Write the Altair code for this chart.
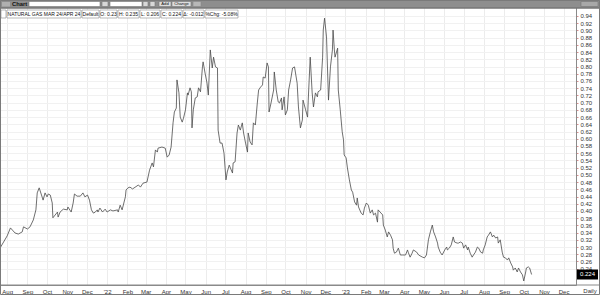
import altair as alt
import pandas as pd

# ---------------- data ----------------
start_date = "2021-08-01"
day_offsets = [
    -11, 0, 5, 8, 12, 17, 23, 25, 31, 35, 40, 44, 46, 49, 54, 55, 58, 61, 63, 66,
    69, 70, 77, 78, 81, 86, 92, 93, 98, 101, 103, 107, 112, 116, 119, 123, 126, 129, 132, 135,
    138, 139, 142, 146, 150, 153, 158, 162, 169, 170, 173, 176, 181, 182, 185,
    188, 192, 201, 204, 208, 214, 218, 222, 224, 227, 230, 231, 237, 242, 245, 248, 251,
    254, 256, 259, 260, 263, 265, 268, 270, 273, 276, 277, 280, 282, 283, 285, 288, 291, 293,
    296, 299, 300, 303, 306, 308, 311, 314, 316, 319, 322, 323, 326, 329, 332, 335, 337, 340,
    345, 346, 349, 352, 354, 357,
    360, 362, 365, 368, 369, 372, 375, 377, 380, 383, 385, 388, 391, 392, 395, 398, 400, 401,
    404, 408, 409, 412, 415, 417, 420, 421, 424, 426, 429, 431, 434, 437, 440, 444, 446, 449,
    452, 453, 457, 460, 461, 464, 467, 469, 472, 475, 476, 480, 483, 484, 486, 489, 492, 495,
    498, 499, 501, 502, 506, 507, 510, 513,
    515, 516, 519, 521, 524, 527, 529, 532, 535, 536, 538, 542, 545, 547, 550, 553, 556, 559,
    561, 564, 567, 568, 571, 575, 576, 579, 582, 584, 587, 590, 591, 593, 596, 599, 602, 605,
    610, 613, 614, 617, 620, 622, 627, 630, 636, 639, 642, 645, 648, 651, 653, 656, 659, 660,
    663, 666, 670, 673, 674, 677, 680, 683, 685, 689, 691, 694, 697, 699, 702, 705, 706, 709,
    712, 714, 717, 720, 722, 725, 728, 729, 732, 735, 737, 740, 743, 745, 748, 751, 752, 755,
    758, 760, 763, 766, 768, 771, 774, 775, 778, 781, 783, 786, 789, 791, 794, 795, 798, 800, 803,
]
values = [
    0.297, 0.331, 0.353, 0.347, 0.339, 0.336, 0.342, 0.356, 0.350, 0.356, 0.375, 0.403, 0.450, 0.464, 0.436, 0.430, 0.450, 0.439, 0.447, 0.444,
    0.422, 0.381, 0.397, 0.383, 0.397, 0.405, 0.403, 0.411, 0.397, 0.422, 0.447, 0.441, 0.441, 0.450, 0.439, 0.444, 0.430, 0.403, 0.394, 0.397,
    0.403, 0.397, 0.408, 0.397, 0.405, 0.397, 0.403, 0.400, 0.403, 0.397, 0.416, 0.403, 0.439, 0.458, 0.464,
    0.466, 0.461, 0.472, 0.466, 0.477, 0.480, 0.513, 0.533, 0.522, 0.569, 0.563, 0.574, 0.577, 0.574, 0.549, 0.555, 0.577,
    0.644, 0.674, 0.685, 0.763, 0.727, 0.660, 0.646, 0.657, 0.680, 0.727, 0.721, 0.741, 0.730, 0.630, 0.680, 0.713, 0.716, 0.741,
    0.730, 0.799, 0.813, 0.782, 0.754, 0.721, 0.846, 0.796, 0.826, 0.799, 0.796, 0.624, 0.588, 0.588, 0.560, 0.486, 0.508, 0.527,
    0.505, 0.533, 0.536, 0.616, 0.638, 0.624,
    0.644, 0.616, 0.588, 0.563, 0.616, 0.591, 0.583, 0.644, 0.638, 0.699, 0.735, 0.743, 0.749, 0.771, 0.768, 0.810, 0.799, 0.674,
    0.699, 0.735, 0.785, 0.735, 0.702, 0.699, 0.713, 0.680, 0.716, 0.666, 0.680, 0.735, 0.763, 0.796, 0.799, 0.754, 0.688, 0.630,
    0.652, 0.707, 0.680, 0.660, 0.707, 0.826, 0.727, 0.688, 0.727, 0.716, 0.730, 0.735, 0.826, 0.901, 0.934, 0.882, 0.707, 0.799,
    0.846, 0.901, 0.846, 0.826, 0.851, 0.735, 0.680, 0.619,
    0.597, 0.555, 0.547, 0.519, 0.486, 0.458, 0.452, 0.425, 0.416, 0.436, 0.411, 0.394, 0.389, 0.408, 0.422, 0.416, 0.394, 0.403,
    0.389, 0.394, 0.369, 0.403, 0.397, 0.389, 0.361, 0.347, 0.328, 0.342, 0.333, 0.320, 0.297, 0.283, 0.286, 0.297, 0.278, 0.278,
    0.278, 0.292, 0.286, 0.272, 0.283, 0.292, 0.286, 0.278, 0.272, 0.270, 0.278, 0.320, 0.342, 0.361, 0.342, 0.328, 0.311, 0.300,
    0.286, 0.278, 0.292, 0.300, 0.292, 0.297, 0.306, 0.328, 0.314, 0.311, 0.311, 0.314, 0.311, 0.297, 0.306, 0.292, 0.300, 0.283,
    0.272, 0.278, 0.286, 0.300, 0.297, 0.286, 0.283, 0.292, 0.306, 0.328, 0.333, 0.342, 0.328, 0.333, 0.325, 0.328, 0.311, 0.320,
    0.286, 0.272, 0.270, 0.264, 0.270, 0.256, 0.245, 0.236, 0.242, 0.231, 0.242, 0.231, 0.223, 0.206, 0.231, 0.242, 0.245, 0.242, 0.224,
]

tick_months = [
    (2021, 8), (2021, 9), (2021, 10), (2021, 11), (2021, 12),
    (2022, 1), (2022, 2), (2022, 3), (2022, 4), (2022, 5), (2022, 6), (2022, 7),
    (2022, 8), (2022, 9), (2022, 10), (2022, 11), (2022, 12),
    (2023, 1), (2023, 2), (2023, 3), (2023, 4), (2023, 5), (2023, 6), (2023, 7),
    (2023, 8), (2023, 9), (2023, 10), (2023, 11), (2023, 12),
]
y_ticks = [0.24, 0.26, 0.28, 0.30, 0.32, 0.34, 0.36, 0.38, 0.40, 0.42, 0.44, 0.46,
           0.48, 0.50, 0.52, 0.54, 0.56, 0.58, 0.60, 0.62, 0.64, 0.66, 0.68, 0.70,
           0.72, 0.74, 0.76, 0.78, 0.80, 0.82, 0.84, 0.86, 0.88, 0.90, 0.92, 0.94]

legend_items = ["NATURAL GAS MAR 24/APR 24", "Default", "O: 0.23", "H: 0.235",
                "L: 0.206", "C: 0.224", "\u0394: -0.012", "%Chg: -5.08%"]

# ---------------- build table ----------------
dates = pd.Timestamp(start_date) + pd.to_timedelta(day_offsets, unit="D")
df = pd.DataFrame({"date": dates.strftime("%Y-%m-%dT00:00:00"), "value": values})
last_df = df.tail(1)

FONT = "Liberation Sans"
W, H = 576, 285

x_scale = alt.Scale(domain=[alt.DateTime(year=2021, month=7, date=21),
                            alt.DateTime(year=2023, month=12, date=20)])
y_scale = alt.Scale(domain=[0.1949, 0.9843], nice=False, zero=False)

x_axis = alt.Axis(
    values=[alt.DateTime(year=y, month=m, date=1) for y, m in tick_months],
    labelExpr="month(datum.value) == 0 ? \"'\" + timeFormat(datum.value, '%y') : timeFormat(datum.value, '%b')",
    title=None, grid=True, gridColor="#ececec", gridWidth=1,
    domainColor="#8a8a8a", ticks=False, labelFontSize=6, labelPadding=3,
    labelColor="#333333", labelFont=FONT, labelOverlap=False, labelFlush=False,
)
y_axis = alt.Axis(
    orient="right", values=y_ticks, format=".2f", title=None,
    grid=True, gridColor="#f1f1f1", domainColor="#8a8a8a",
    tickColor="#d89090", tickSize=2, labelFontSize=6, labelPadding=2,
    labelColor="#333333", labelFont=FONT, labelOverlap=False, labelFlush=False,
    labelBound=False,
)

line = alt.Chart(df).mark_line(color="#4a4a4a", strokeWidth=0.8).encode(
    x=alt.X("date:T", scale=x_scale, axis=x_axis),
    y=alt.Y("value:Q", scale=y_scale, axis=y_axis),
)

last_box = alt.Chart(last_df).mark_rect(color="black", height=10).encode(
    x=alt.value(577), x2=alt.value(598),
    y=alt.Y("value:Q", scale=y_scale, axis=y_axis),
)
last_text = alt.Chart(last_df).mark_text(
    color="white", fontSize=6, font=FONT, align="left", baseline="middle"
).encode(
    x=alt.value(580), y=alt.Y("value:Q", scale=y_scale, axis=y_axis),
    text=alt.Text("value:Q", format=".3f"),
)

one = alt.Data(values=[{}])


def box(x0, x1, y0, y1, fill, stroke=None, sw=0.6):
    kw = dict(fill=fill)
    if stroke:
        kw.update(stroke=stroke, strokeWidth=sw)
    return alt.Chart(one).mark_rect(**kw).encode(
        x=alt.value(x0), x2=alt.value(x1), y=alt.value(y0), y2=alt.value(y1))


def label(txt, x, y, size=5.0, color="#111111", weight="normal", align="center"):
    return alt.Chart(one).mark_text(
        text=txt, fontSize=size, font=FONT, color=color, fontWeight=weight,
        align=align, baseline="middle").encode(x=alt.value(x), y=alt.value(y))


deco = []
# top toolbar
deco.append(box(0, 600, 0, 8.5, "#8e8e8e"))
deco.append(box(0, 600, 7.5, 8.5, "#6a6a6a"))
deco.append(box(2, 10, 2, 6.5, "#b0b0b0"))
deco.append(label("Chart", 12, 4.3, size=5.8, weight="bold", align="left"))
deco.append(box(29, 100, 1.5, 6.5, "white", "#777777"))
deco.append(box(102, 108, 1.5, 6.5, "#d8d8d8", "#777777"))
deco.append(box(110, 142, 1.5, 6.5, "white", "#777777"))
deco.append(box(143, 148, 1.5, 6.5, "#d8d8d8", "#777777"))
deco.append(box(150, 155, 1.5, 6.5, "#d8d8d8", "#777777"))
deco.append(box(159, 171, 1.5, 6.5, "#dddddd", "#777777"))
deco.append(label("Add", 165, 4.2, size=4.2))
deco.append(box(172, 191, 1.5, 6.5, "#dddddd", "#777777"))
deco.append(label("Change", 181.5, 4.2, size=4.2))
deco.append(box(193, 201, 1.5, 6.5, "#b8b8b8", "#888888"))
deco.append(box(581, 598, 1.5, 6.5, "#a8a8a8", "#777777"))

# legend row
deco.append(box(1, 6, 10, 18, "white", "#888888"))
legend_edges = [7, 82, 100, 118, 140, 161, 183, 205, 239]
for i, txt in enumerate(legend_items):
    x0, x1 = legend_edges[i], legend_edges[i + 1] - 1
    deco.append(box(x0, x1, 10, 18, "white", "#8a8a8a"))
    deco.append(label(txt, (x0 + x1) / 2, 14.2))

# bottom line across and frame
frame_rule = alt.Chart(one).mark_rule(color="#8a8a8a", strokeWidth=1).encode(
    x=alt.value(0), x2=alt.value(600), y=alt.value(285))
deco.append(frame_rule)
deco.append(label("Daily", 590, 291, size=6, color="#333333"))
deco.append(alt.Chart(one).mark_rect(fill="transparent", stroke="#7a7a7a", strokeWidth=1).encode(
    x=alt.value(0.5), x2=alt.value(599.5), y=alt.value(0.5), y2=alt.value(294.5)))

chart = alt.layer(line, *deco, last_box, last_text).properties(
    width=W, height=H,
    autosize=alt.AutoSizeParams(type="none"),
    padding={"left": 0, "top": 0, "right": 24, "bottom": 10},
    background="white",
).configure_view(strokeWidth=0)

chart.save("out.html", embed_options={"renderer": "svg", "actions": False})
